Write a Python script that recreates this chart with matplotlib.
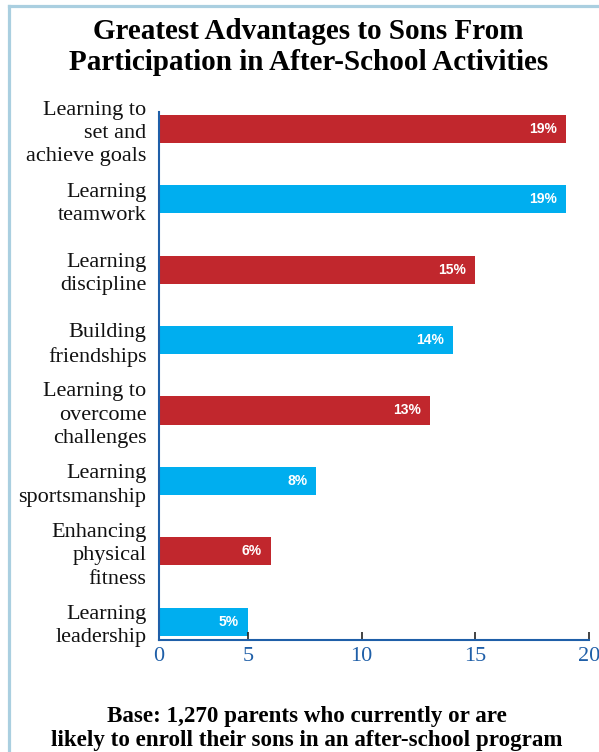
import matplotlib.pyplot as plt
from matplotlib.lines import Line2D

categories = ["Learning to\nset and\nachieve goals", "Learning\nteamwork",
              "Learning\ndiscipline", "Building\nfriendships",
              "Learning to\novercome\nchallenges", "Learning\nsportsmanship",
              "Enhancing\nphysical\nfitness", "Learning\nleadership"]
values = [19, 19, 15, 14, 13, 8, 6, 5]
bar_colors = ["#c1272d", "#00aeef"] * 4
xticks = [5, 10, 15, 20]
x_start = 1.08  # left end of the axis, labelled "0"

axis_blue = "#1f5fa8"
frame_blue = "#aacfe0"

fig = plt.figure(figsize=(5.99, 7.52), dpi=100)
ax = fig.add_axes([0.2654, 0.149, 0.7179, 0.702])

pos = list(range(len(values)))
ax.barh(pos, values, height=0.4, color=bar_colors)
for y, v in zip(pos, values):
    ax.text(v - 0.4, y, f"{v}%", ha="right", va="center", color="white",
            fontsize=10, fontweight="bold", family="Liberation Sans")

ax.set_xlim(x_start, 20)
ax.set_ylim(7.26, -0.24)
ax.set_xticks([x_start] + xticks)
ax.set_xticklabels(["0"] + [str(t) for t in xticks], family="Liberation Serif",
                   fontsize=16, color=axis_blue)
ax.set_yticks(pos)
ax.set_yticklabels(categories, family="Liberation Serif", fontsize=16,
                   color="#111111", linespacing=1.3)
ax.tick_params(axis="y", length=0, pad=9)
ax.tick_params(axis="x", direction="in", length=6, width=1.2,
               color="#222222", pad=5)
for side in ("top", "right"):
    ax.spines[side].set_visible(False)
for side in ("left", "bottom"):
    ax.spines[side].set_color(axis_blue)
    ax.spines[side].set_linewidth(1.5)

fig.text(0.515, 0.937, "Greatest Advantages to Sons From\nParticipation in After-School Activities",
         ha="center", va="center", family="Liberation Serif", fontsize=21,
         fontweight="bold", linespacing=1.2)
fig.text(0.512, 0.031, "Base: 1,270 parents who currently or are\nlikely to enroll their sons in an after-school program",
         ha="center", va="center", family="Liberation Serif", fontsize=16.6,
         fontweight="bold", linespacing=1.15)

# light frame along the left and top edges
top = 1 - 6 / 752
left = 9 / 599
fig.add_artist(Line2D([left, left], [0, top], color=frame_blue, lw=2.3))
fig.add_artist(Line2D([left, 1], [top, top], color=frame_blue, lw=2.3))

fig.savefig("out.png", dpi=100)
